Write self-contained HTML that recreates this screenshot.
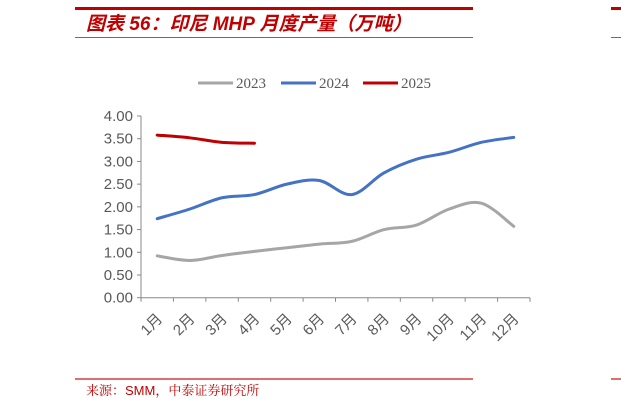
<!DOCTYPE html>
<html><head><meta charset="utf-8"><style>
body{margin:0;background:#fff;width:621px;height:409px;overflow:hidden;font-family:"Liberation Sans","Noto Sans CJK SC",sans-serif}
</style></head><body>
<svg id="chart" width="621" height="409" xmlns="http://www.w3.org/2000/svg">
<rect x="75" y="7" width="398" height="3" fill="#c00000"/>
<rect x="611" y="7" width="10" height="3" fill="#c00000"/>
<line x1="75" y1="37.5" x2="473" y2="37.5" stroke="#d04040" stroke-width="1"/>
<line x1="611" y1="37.5" x2="621" y2="37.5" stroke="#d04040" stroke-width="1"/>
<text x="86" y="30" font-size="19" font-weight="bold" font-style="italic" fill="#c00000" font-family="Liberation Sans, Noto Sans CJK SC, sans-serif">图表 56：印尼 MHP 月度产量（万吨）</text>
<line x1="75" y1="379" x2="473" y2="379" stroke="#d04040" stroke-width="1.5"/>
<line x1="611" y1="379" x2="621" y2="379" stroke="#d04040" stroke-width="1.5"/>
<text x="86" y="395" font-size="13" fill="#c00000" font-family="Liberation Sans, Noto Serif CJK SC, sans-serif">来源：SMM，中泰证券研究所</text>
<g id="legend"></g>
<g id="axes"></g>
<g id="series"></g>
</svg>
<script>
const categories=["1月","2月","3月","4月","5月","6月","7月","8月","9月","10月","11月","12月"];
const s2023=[0.92,0.82,0.93,1.02,1.10,1.18,1.24,1.50,1.60,1.95,2.08,1.57];
const s2024=[1.74,1.95,2.20,2.27,2.50,2.58,2.27,2.75,3.05,3.20,3.42,3.53];
const s2025=[3.58,3.52,3.42,3.40];
const yTicks=[0,0.5,1,1.5,2,2.5,3,3.5,4];
const seriesNames=["2023","2024","2025"];
const seriesColors=["#a6a6a6","#4472c4","#c00000"];
const NS="http://www.w3.org/2000/svg";
const X0=141,X1=530,Y0=297.7,Y1=116,YMAX=4;
const bw=(X1-X0)/categories.length;
const xS=i=>X0+bw*(i+0.5);
const yS=v=>Y0-(Y0-Y1)*v/YMAX;
function mk(tag,attrs,parent){const e=document.createElementNS(NS,tag);for(const k in attrs)e.setAttribute(k,attrs[k]);parent.appendChild(e);return e;}
const axes=document.getElementById('axes');
let l=mk('line',{x1:X0,y1:Y1,x2:X0,y2:Y0,stroke:'#888','stroke-width':1},axes);


l=mk('line',{x1:X0,y1:Y0,x2:X1,y2:Y0,stroke:'#888','stroke-width':1},axes);


yTicks.forEach(v=>{
 const t=mk('line',{x1:X0-4,y1:yS(v),x2:X0,y2:yS(v),stroke:'#888'},axes);
 
 
 const tx=mk('text',{x:X0-8,y:yS(v)+5,'font-size':15,fill:'#595959','text-anchor':'end'},axes);
 tx.textContent=v.toFixed(2);
 
 
});
for(let i=0;i<=categories.length;i++){
 const t=mk('line',{x1:X0+bw*i,y1:Y0,x2:X0+bw*i,y2:Y0+4,stroke:'#888'},axes);
 
 
}
categories.forEach((c,i)=>{
 const x=xS(i)+6,y=Y0+22;
 const tx=mk('text',{x:x,y:y,'font-size':15,fill:'#595959','text-anchor':'end',transform:`rotate(-45 ${x} ${y})`},axes);
 tx.textContent=c;
 
 
});
function smooth(vals){
 const p=vals.map((v,i)=>[xS(i),yS(v)]);
 let d=`M${p[0][0]},${p[0][1]}`;
 for(let i=0;i<p.length-1;i++){
  const p0=p[i-1]||p[i],p1=p[i],p2=p[i+1],p3=p[i+2]||p2;
  const c1=[p1[0]+(p2[0]-p0[0])/6,p1[1]+(p2[1]-p0[1])/6];
  const c2=[p2[0]-(p3[0]-p1[0])/6,p2[1]-(p3[1]-p1[1])/6];
  d+=` C${c1[0]},${c1[1]} ${c2[0]},${c2[1]} ${p2[0]},${p2[1]}`;
 }
 return d;
}
const sg=document.getElementById('series');
[s2023,s2024,s2025].forEach((s,k)=>{
 const p=mk('path',{d:smooth(s),fill:'none',stroke:seriesColors[k],'stroke-width':3,'stroke-linecap':'round'},sg);
 
 
});
const lg=document.getElementById('legend');
const lx=[198,281,363];
seriesNames.forEach((n,k)=>{
 const ln=mk('line',{x1:lx[k],y1:83,x2:lx[k]+35,y2:83,stroke:seriesColors[k],'stroke-width':3},lg);
 
 
 const tx=mk('text',{x:lx[k]+38,y:88,'font-size':15,fill:'#595959','font-family':'Liberation Serif, serif'},lg);
 tx.textContent=n;
 
 
});
</script>
</body></html>
